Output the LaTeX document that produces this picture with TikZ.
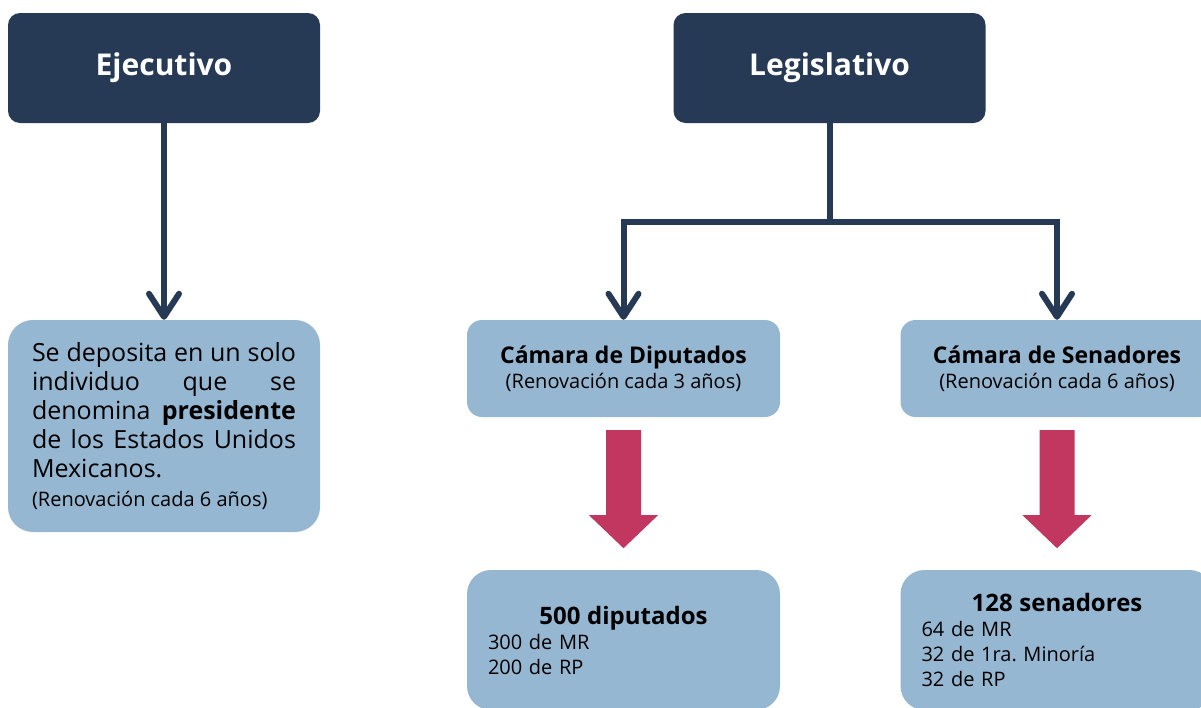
\documentclass[tikz,border=0pt]{standalone}
\usepackage{fontspec}
\setmainfont{Open Sans}
\usetikzlibrary{arrows.meta,positioning}
\definecolor{navy}{HTML}{263A56}
\definecolor{paleblue}{HTML}{95B7D1}
\definecolor{crimson}{HTML}{C2375F}
\newcommand{\sz}[2]{\fontsize{#1}{#2}\selectfont}
\frenchspacing

\begin{document}
\begin{tikzpicture}[x=1pt,y=1pt,on grid,
        power/.style={rectangle,rounded corners=12pt,fill=navy,text=white,minimum width=312pt,minimum height=110pt,font=\bfseries\sz{30}{36}},
        info/.style={rectangle,fill=paleblue,inner sep=0pt},
        chamber/.style={info,rounded corners=15pt,minimum width=313pt,minimum height=97pt,align=center,font=\sz{20}{25}},
        total/.style={info,rounded corners=24pt,minimum width=313pt,minimum height=140pt,text width=271pt,align=left,font=\sz{20}{25}},
        link/.style={draw=navy,line width=6pt,-{Straight Barb[length=23pt,width=30pt,round]}},
        redarrow/.style={fill=crimson}]

        \useasboundingbox (0,0) rectangle (1201,-707);

        \node[power] (eje) at (164,-68) {Ejecutivo};
        \node[power] (leg) [right=665.5pt of eje] {Legislativo};
        \node[info,rounded corners=25pt,minimum width=312pt,minimum height=212pt,text width=264pt,align=justify,font=\sz{25}{29}] (pres) [below=358pt of eje]
            {\noindent Se deposita en un solo\linebreak individuo que se\linebreak denomina \textbf{presidente}\linebreak de los Estados Unidos\linebreak Mexicanos.\\{\sz{20}{25}(Renovación cada 6 años)}};
        \node[chamber] (dip) [below left=300.5pt and 206pt of leg] {{\bfseries\sz{23}{25}Cámara de Diputados}\\(Renovación cada 3 años)};
        \node[chamber] (sen) [right=433.5pt of dip] {{\bfseries\sz{23}{25}Cámara de Senadores}\\(Renovación cada 6 años)};
        \node[total] (dipn) [below=271.5pt of dip] {\makebox[\linewidth]{\bfseries\sz{24}{28}500 diputados}\\300 de MR\\200 de RP};
        \node[total] (senn) [below=271.5pt of sen] {\makebox[\linewidth]{\bfseries\sz{24}{28}128 senadores}\\64 de MR\\32 de 1ra. Minoría\\32 de RP};
        \coordinate[below=154pt of leg] (split);

        \draw[link] (eje) -- (pres);
        \draw[link] (leg) -- (split) -| (dip);
        \draw[link] (split) -| (sen);

        \foreach \c in {dip,sen}
            \fill[redarrow] ([shift={(-17.5,-13)}]\c.south) -- ++(35,0) -- ++(0,-85) -- ++(17,0) -- ++(-34.5,-33) -- ++(-34.5,33) -- ++(17,0) -- cycle;

    \end{tikzpicture}
\end{document}
